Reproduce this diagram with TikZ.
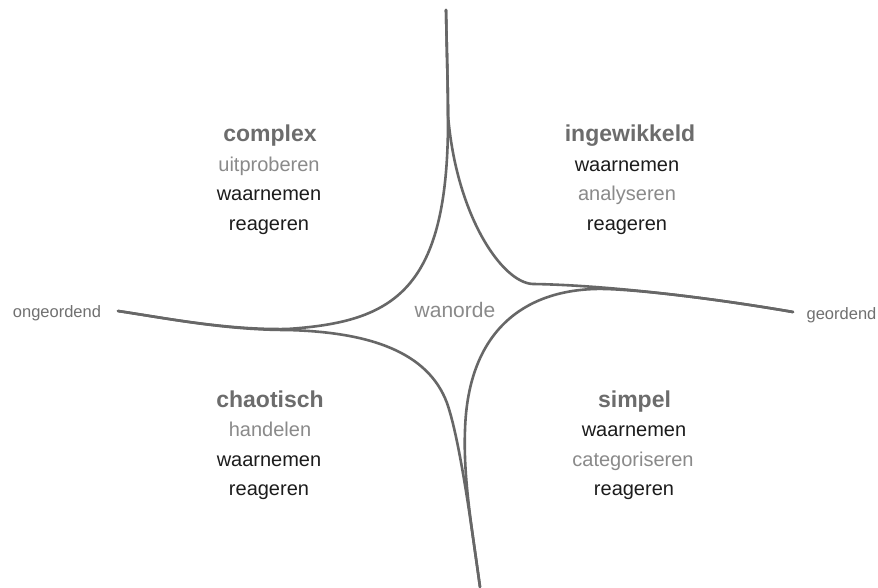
\documentclass[tikz,border=0pt]{standalone}
\usepackage{fontspec}
\setmainfont{Liberation Sans}
\definecolor{cCurve}{HTML}{676767}
\definecolor{cHead}{HTML}{6C6C6C}
\definecolor{cLight}{HTML}{8A8A8A}
\definecolor{cDark}{HTML}{1C1C1C}
\definecolor{cSide}{HTML}{707070}
\begin{document}
\begin{tikzpicture}[x=1pt,y=-1pt,
  curve/.style={draw=cCurve, line width=2.6pt, line cap=round, line join=round},
  head/.style={anchor=base, inner sep=0pt, text=cHead, font=\fontsize{23}{26}\selectfont\bfseries},
  light/.style={anchor=base, inner sep=0pt, text=cLight, font=\fontsize{20}{24}\selectfont},
  dark/.style={anchor=base, inner sep=0pt, text=cDark, font=\fontsize{20}{24}\selectfont},
  side/.style={anchor=base, inner sep=0pt, text=cSide, font=\fontsize{16.5}{20}\selectfont},
  mid/.style={anchor=base, inner sep=0pt, text=cLight, font=\fontsize{21}{24}\selectfont}]
\fill[white] (0,0) rectangle (878,588);
\useasboundingbox (0,0) rectangle (878,588);

\coordinate (T) at (446,10);
\coordinate (S) at (448,115);
\coordinate (L) at (118,311);
\coordinate (R) at (793,312);
\coordinate (B) at (480,587);

% top to left
\draw[curve] (T) .. controls (447,60) and (448,90) .. (S)
  .. controls (449,290) and (395,322) .. (287,329)
  .. controls (225,330) and (165,318) .. (L);
% top to right
\draw[curve] (T) .. controls (447,60) and (448,90) .. (S)
  .. controls (456,215) and (502,283) .. (533,284)
  .. controls (600,285) and (700,296) .. (R);
% right to bottom
\draw[curve] (R) .. controls (700,296) and (620,288) .. (595,289)
  .. controls (525,291) and (468,330) .. (465,430)
  .. controls (463,480) and (473,535) .. (B);
% left to bottom
\draw[curve] (L) .. controls (165,318) and (225,330) .. (287,330)
  .. controls (370,332) and (428,352) .. (447,403)
  .. controls (460,440) and (472,530) .. (B);

% top left
\node[head]  (tl1) at (270,142) {complex};
\node[light] (tl2) at (269,171.5) {uitproberen};
\node[dark]  (tl3) at (269,201) {waarnemen};
\node[dark]  (tl4) at (269,230) {reageren};
% top right
\node[head]  (tr1) at (630,142) {ingewikkeld};
\node[dark]  (tr2) at (627,171.5) {waarnemen};
\node[light] (tr3) at (627,201) {analyseren};
\node[dark]  (tr4) at (627,230) {reageren};
% bottom left
\node[head]  (bl1) at (270,407) {chaotisch};
\node[light] (bl2) at (270,436.5) {handelen};
\node[dark]  (bl3) at (269,466) {waarnemen};
\node[dark]  (bl4) at (269,495) {reageren};
% bottom right
\node[head]  (br1) at (634.5,407) {simpel};
\node[dark]  (br2) at (634,436.5) {waarnemen};
\node[light] (br3) at (633,466) {categoriseren};
\node[dark]  (br4) at (634,495) {reageren};

\node[side] (ong) at (57,317.5) {ongeordend};
\node[side] (geo) at (841.5,319) {geordend};
\node[mid]  (wan) at (455,317) {wanorde};
\end{tikzpicture}
\end{document}
